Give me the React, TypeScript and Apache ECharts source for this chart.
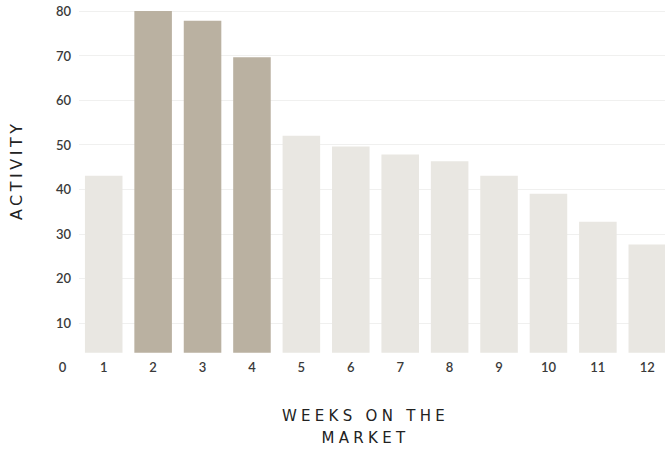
import React, { useEffect, useRef } from "react";
import * as echarts from "echarts";

const weeks = ["1", "2", "3", "4", "5", "6", "7", "8", "9", "10", "11", "12"];
const activity = [43, 80, 77.8, 69.6, 52, 49.6, 47.8, 46.3, 43, 39, 32.7, 27.6];
const highlightWeeks = ["2", "3", "4"];
const zeroLabel = "0";
const xTitleLines = ["WEEKS ON THE", "MARKET"];
const yTitle = "ACTIVITY";

export default function App() {
  const ref = useRef<HTMLDivElement>(null);
  useEffect(() => {
    document.body.style.margin = "0";
    if (!ref.current) return;
    const chart = echarts.init(ref.current, undefined, { renderer: "svg" });
    const font = "Lato";
    chart.setOption({
      animation: false,
      grid: {
        left: 79,
        top: 11,
        bottom: 97.3,
        right: -7,
        containLabel: false,
        outerBoundsMode: "none",
      },
      xAxis: {
        type: "category",
        data: weeks,
        axisLine: { show: false },
        axisTick: { show: false },
        axisLabel: { margin: 8, color: "#3a3a3a", fontSize: 13, fontFamily: font, fontWeight: 600 },
        name: xTitleLines.join("\n"),
        nameLocation: "middle",
        nameGap: 52,
        nameTextStyle: {
          color: "#222",
          fontSize: 15,
          fontFamily: "DejaVu Sans",
          lineHeight: 22,
          padding: [0, 20, 0, 0],
        },
      },
      yAxis: {
        type: "value",
        min: 3.3,
        max: 80,
        splitNumber: 8,
        axisLine: { show: false },
        axisTick: { show: false },
        axisLabel: {
          margin: 8,
          color: "#3a3a3a",
          fontSize: 13,
          fontFamily: font,
          fontWeight: 600,
          showMinLabel: false,
          formatter: (v: number) => (v % 10 === 0 ? String(v) : ""),
        },
        splitLine: { show: true, showMinLine: false, lineStyle: { color: "#f0f0ef", width: 1 } },
        name: yTitle,
        nameLocation: "middle",
        nameRotate: 90,
        nameGap: 55,
        nameTextStyle: {
          color: "#222",
          fontSize: 16,
          fontFamily: "DejaVu Sans",
          padding: [0, 0, 0, 23],
        },
      },
      graphic: [
        {
          type: "text",
          x: 62.5,
          y: 367,
          style: {
            text: zeroLabel,
            fill: "#3a3a3a",
            font: `600 13px ${font}`,
            textAlign: "center",
            textVerticalAlign: "middle",
          },
        },
      ],
      series: [
        {
          type: "bar",
          data: activity.map((v, i) => ({
            value: v,
            itemStyle: {
              color: highlightWeeks.includes(weeks[i]) ? "#bab1a1" : "#e9e7e2",
            },
          })),
          barCategoryGap: "24%",
          clip: true,
        },
      ],
    });
    const applySpacing = () => {
      const root = ref.current;
      if (!root) return;
      root.querySelectorAll("text").forEach((t) => {
        const s = (t.textContent || "").trim();
        if (xTitleLines.includes(s)) t.setAttribute("letter-spacing", "4.3");
        if (s === yTitle) t.setAttribute("letter-spacing", "3.5");
      });
    };
    chart.on("finished", applySpacing);
    applySpacing();
    const timer = setTimeout(applySpacing, 50);
    return () => {
      clearTimeout(timer);
      chart.dispose();
    };
  }, []);
  return <div ref={ref} style={{ width: 665, height: 450 }} />;
}
